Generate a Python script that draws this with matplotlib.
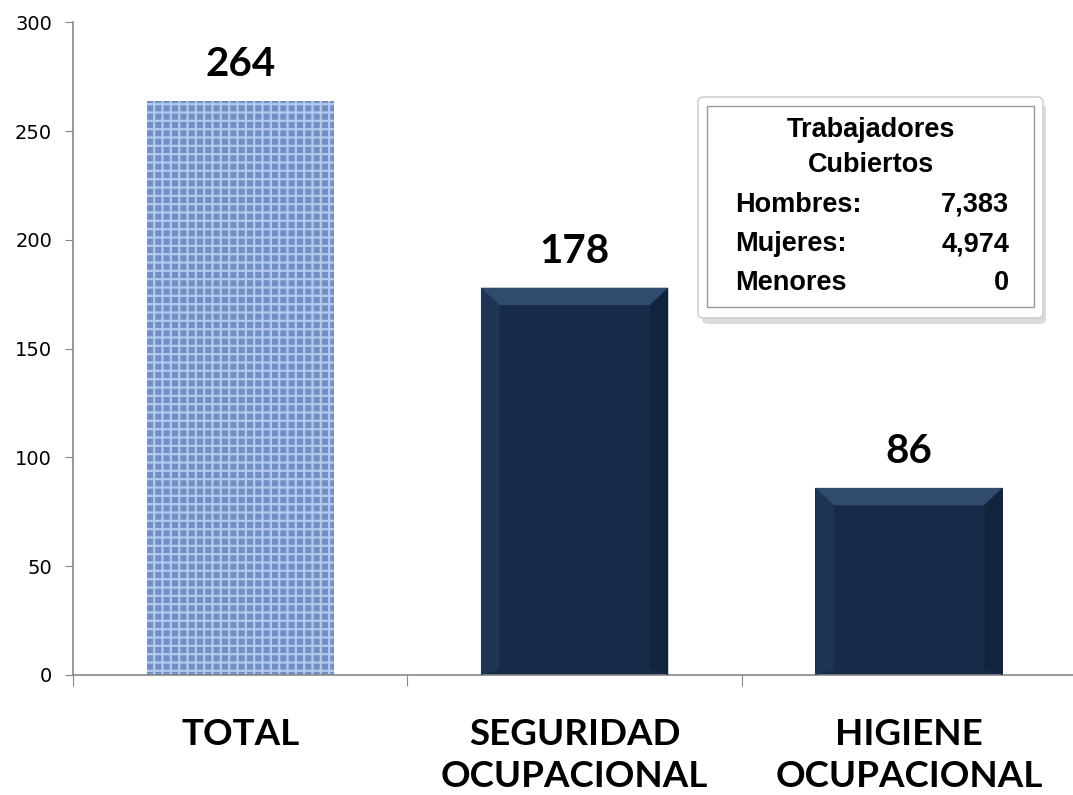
import numpy as np
import matplotlib
matplotlib.use("Agg")
import matplotlib.pyplot as plt
from matplotlib.patches import Polygon, FancyBboxPatch

categories = ["TOTAL", "SEGURIDAD\nOCUPACIONAL", "HIGIENE\nOCUPACIONAL"]
values = [264, 178, 86]
box_title = ["Trabajadores", "Cubiertos"]
box_rows = ["Hombres:", "Mujeres:", "Menores"]
box_vals = ["7,383", "4,974", "0"]

label_font = "Lato"
plt.rcParams['hatch.linewidth'] = 1.6

fig = plt.figure(figsize=(10.73, 7.95), dpi=100)
ax = fig.add_axes([0.068, 0.151, 0.935, 0.821])

x = np.arange(len(values))
width = 0.56
bars = ax.bar(x, values, width=width, color=['#7390c6', '#172b48', '#172b48'],
              edgecolor=['#b4c9ee', '#0f1f36', '#0f1f36'], linewidth=0, zorder=2)
bars[0].set_hatch('++')

# bevel effect on the dark bars
dx = 0.055
dy = 8
for b in bars[1:]:
    x0, w, h = b.get_x(), b.get_width(), b.get_height()
    x1 = x0 + w
    ax.add_patch(Polygon([[x0, h], [x1, h], [x1 - dx, h - dy], [x0 + dx, h - dy]],
                         closed=True, facecolor='#304b6e', edgecolor='none', zorder=3))
    ax.add_patch(Polygon([[x0, 0], [x0, h], [x0 + dx, h - dy], [x0 + dx, dy * 0.3]],
                         closed=True, facecolor='#1f3554', edgecolor='none', zorder=3))
    ax.add_patch(Polygon([[x1, 0], [x1, h], [x1 - dx, h - dy], [x1 - dx, dy * 0.3]],
                         closed=True, facecolor='#12233e', edgecolor='none', zorder=3))

for xi, v in zip(x, values):
    ax.text(xi, v + 8, str(v), ha='center', va='bottom', fontsize=29,
            fontweight='bold', family=label_font)

ax.set_xlim(-0.5, 2.5)
ax.set_ylim(0, 300)
ax.set_yticks(np.arange(0, 301, 50))
ax.tick_params(axis='y', labelsize=14, length=6, color='#878787', direction='out', pad=9)

ax.set_xticks([-0.5, 0.5, 1.5])
ax.set_xticklabels([])
ax.tick_params(axis='x', length=8, color='#878787', direction='out')
for xi, c in zip(x, categories):
    ax.text(xi, -20, c, ha='center', va='top', fontsize=26.5, fontweight='bold',
            family=label_font, linespacing=1.3)

for s in ['top', 'right']:
    ax.spines[s].set_visible(False)
for s in ['left', 'bottom']:
    ax.spines[s].set_color('#878787')
    ax.spines[s].set_linewidth(1.2)

# info box (figure pixel coords converted to fractions)
W, H = 1073, 795
def fx(px):
    return px / W
def fy(py):
    return 1 - py / H

shadow = FancyBboxPatch((fx(702), fy(324)), fx(1046) - fx(702), fy(104) - fy(324),
                        boxstyle="round,pad=0,rounding_size=0.006", transform=fig.transFigure,
                        facecolor='#c4c4c4', edgecolor='none', alpha=0.6, zorder=5)
fig.patches.append(shadow)
outer = FancyBboxPatch((fx(698), fy(318)), fx(1043) - fx(698), fy(97) - fy(318),
                       boxstyle="round,pad=0,rounding_size=0.006", transform=fig.transFigure,
                       facecolor='white', edgecolor='#d0d0d0', linewidth=1.2, zorder=6)
fig.patches.append(outer)
inner = FancyBboxPatch((fx(707), fy(307)), fx(1034) - fx(707), fy(106) - fy(307),
                       boxstyle="square,pad=0", transform=fig.transFigure,
                       facecolor='white', edgecolor='#9a9a9a', linewidth=1.0, zorder=7)
fig.patches.append(inner)

fs = 19.5
fig.text(fx(871), fy(130), box_title[0], ha='center', va='center', fontsize=fs,
         fontweight='bold', family='Liberation Sans', zorder=8)
fig.text(fx(871), fy(165), box_title[1], ha='center', va='center', fontsize=fs,
         fontweight='bold', family='Liberation Sans', zorder=8)
for i, (r, v) in enumerate(zip(box_rows, box_vals)):
    yy = fy(205 + i * 39)
    fig.text(fx(735), yy, r, ha='left', va='center', fontsize=fs,
             fontweight='bold', family='Liberation Sans', zorder=8)
    fig.text(fx(1009), yy, v, ha='right', va='center', fontsize=fs,
             fontweight='bold', family='Liberation Sans', zorder=8)

fig.savefig("out.png", dpi=100)
